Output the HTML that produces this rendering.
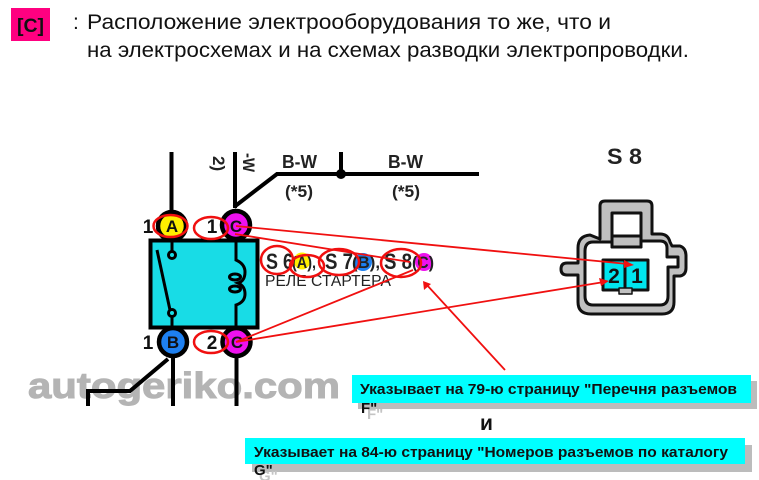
<!DOCTYPE html>
<html><head><meta charset="utf-8"><style>
html,body{margin:0;padding:0;background:#fff;width:759px;height:480px;overflow:hidden}
svg{display:block}
text{font-family:"Liberation Sans",sans-serif}
</style></head><body>
<svg width="759" height="480" viewBox="0 0 759 480" xmlns="http://www.w3.org/2000/svg">
<rect x="11" y="8" width="39" height="33" fill="#ff0080"/>
<text x="17" y="32" font-size="19" font-weight="bold" fill="#111" textLength="27" lengthAdjust="spacingAndGlyphs">[C]</text>
<text x="73" y="29" font-size="21" fill="#111">:</text>
<text x="87" y="29" font-size="21" fill="#111" textLength="524" lengthAdjust="spacingAndGlyphs">Расположение электрооборудования то же, что и</text>
<text x="87" y="57" font-size="21" fill="#111" textLength="602" lengthAdjust="spacingAndGlyphs">на электросхемах и на схемах разводки электропроводки.</text>

<text x="28" y="398" font-size="36" font-weight="bold" fill="#b4b4b4" stroke="#b4b4b4" stroke-width="1" textLength="312" lengthAdjust="spacingAndGlyphs">autogeriko.com</text>

<g stroke="#000" stroke-width="4" fill="none">
<path d="M171.500 152V212M235 152V208M234 207L277 174H479M341 152V174"/>
<path d="M173 355V406M236.500 355V406M168 359L130 391H88V406"/>
</g>
<circle cx="341" cy="174" r="5" fill="#000"/>

<g stroke="#000" stroke-width="4.500">
<circle cx="172" cy="226" r="14" fill="#ffee00"/>
<circle cx="236" cy="225" r="14" fill="#ee11ee"/>
<circle cx="173" cy="342" r="14" fill="#1e80f0"/>
<circle cx="236.500" cy="342" r="14" fill="#ee11ee"/>
</g>
<rect x="150.500" y="240.500" width="107" height="87" fill="#18dce6" stroke="#000" stroke-width="4"/>
<g stroke="#000" stroke-width="3" fill="none">
<path d="M172 241V251M172 317V327M157 250L170 310"/>
<circle cx="172" cy="255" r="3.500" fill="#18dce6"/>
<circle cx="172" cy="313" r="3.500" fill="#18dce6"/>
<path d="M236 241V260Q245 264 245 272Q245 281 238 283Q245 286 245 294Q245 302 236 305V327"/>
<ellipse cx="235" cy="277" rx="5.500" ry="3" fill="#18dce6"/>
<ellipse cx="235" cy="289" rx="5.500" ry="3" fill="#18dce6"/>
</g>

<g font-size="19" font-weight="bold" fill="#111" text-anchor="middle">
<text x="172" y="232" font-size="17">A</text><text x="236" y="232" font-size="17">C</text>
<text x="173" y="348" font-size="17">B</text><text x="237" y="348" font-size="17">C</text>
<text x="148" y="233">1</text><text x="212" y="233">1</text>
<text x="148" y="349">1</text><text x="212" y="349">2</text>
</g>

<circle cx="302" cy="261" r="8.500" fill="#ffee00"/>
<circle cx="363" cy="262" r="9" fill="#1e80f0"/>
<circle cx="424" cy="262" r="9" fill="#ee11ee"/>
<g font-size="22" font-weight="bold" fill="#222">
<text x="266" y="269" textLength="27" lengthAdjust="spacingAndGlyphs">S 6</text>
<text x="292" y="268" font-size="17" textLength="24" lengthAdjust="spacingAndGlyphs">(A),</text>
<text x="325" y="269" textLength="28" lengthAdjust="spacingAndGlyphs">S 7</text>
<text x="352" y="268" font-size="17" textLength="28" lengthAdjust="spacingAndGlyphs">(B),</text>
<text x="384" y="269" textLength="28" lengthAdjust="spacingAndGlyphs">S 8</text>
<text x="412" y="268" font-size="17" textLength="22" lengthAdjust="spacingAndGlyphs">(C)</text>
</g>
<text x="265" y="286" font-size="16" fill="#222" textLength="126" lengthAdjust="spacingAndGlyphs">РЕЛЕ СТАРТЕРА</text>

<g font-weight="bold" font-size="18" fill="#222">
<text x="282" y="168" textLength="35" lengthAdjust="spacingAndGlyphs">B-W</text>
<text x="388" y="168" textLength="35" lengthAdjust="spacingAndGlyphs">B-W</text>
<text x="285" y="197" font-size="17" textLength="28" lengthAdjust="spacingAndGlyphs">(*5)</text>
<text x="392" y="197" font-size="17" textLength="28" lengthAdjust="spacingAndGlyphs">(*5)</text>
<text transform="translate(213 156) rotate(90)" font-size="17">2)</text>
<text transform="translate(243 153) rotate(90)" font-size="17" textLength="19" lengthAdjust="spacingAndGlyphs">-W</text>
<text x="607" y="164" font-size="22" textLength="35" lengthAdjust="spacingAndGlyphs">S 8</text>
</g>

<!-- connector -->
<g stroke="#111" stroke-width="3" stroke-linejoin="round">
<path d="M600 239V206Q600 201 605 201H647Q652 201 652 206V234H660Q668 234 670 242L672 246H680Q686 248 686 256V268Q686 275 680 276H674V302Q674 314 662 314H591Q578 314 578 302V275H567Q561 275 561 269Q561 263 567 263H578V248Q578 236 590 235Z" fill="#c0c0c0"/>
<path d="M612 247H641V241H660Q667 241 667 248V257H678V267H668V296Q668 305 660 305H593Q585 305 585 296V251Q585 242 593 242H612Z" fill="#fff"/>
<rect x="612" y="213" width="29" height="23" fill="#fff"/>
<rect x="612" y="236" width="29" height="11" fill="#c0c0c0"/>
<rect x="603" y="260" width="45" height="30" fill="#00e5ee"/>
<path d="M625 260V291" fill="none"/>
<rect x="619" y="288" width="13" height="6" fill="#c0c0c0" stroke-width="1.500"/>
</g>
<g font-size="21" font-weight="bold" fill="#111" text-anchor="middle">
<text x="614" y="283">2</text><text x="637" y="283">1</text>
</g>

<!-- callouts -->
<rect x="358" y="381" width="399" height="28" fill="#bcbcbc"/>
<rect x="252" y="445" width="500" height="27" fill="#bcbcbc"/>
<rect x="352" y="375" width="399" height="28" fill="#00ffff"/>
<rect x="245" y="438" width="500" height="26" fill="#00ffff"/>
<g font-size="15" font-weight="bold" fill="#c4c4c4">
<text x="367" y="419">F"</text>
<text x="259" y="481">G"</text>
</g>
<g font-size="15" font-weight="bold" fill="#111">
<text x="360" y="394" textLength="377" lengthAdjust="spacingAndGlyphs">Указывает на 79-ю страницу "Перечня разъемов</text>
<text x="361" y="413">F"</text>
<text x="254" y="457" textLength="474" lengthAdjust="spacingAndGlyphs">Указывает на 84-ю страницу "Номеров разъемов по каталогу</text>
<text x="254" y="475">G"</text>
<text x="480" y="430" font-size="21">и</text>
</g>

<!-- red -->
<g stroke="#f01010" stroke-width="2.500" fill="none">
<ellipse cx="170.500" cy="226" rx="17" ry="11"/>
<ellipse cx="211" cy="228" rx="17" ry="11"/>
<ellipse cx="211" cy="342" rx="17" ry="11"/>
<ellipse cx="277" cy="260" rx="16" ry="14"/>
<ellipse cx="307" cy="266" rx="17" ry="11"/>
<ellipse cx="339" cy="262" rx="20" ry="13"/>
<ellipse cx="401" cy="263" rx="20" ry="14"/>
</g>
<g stroke="#f01010" stroke-width="1.800" fill="none">
<path d="M236 226L628 264M235 234L410 262M236 342L413 270M236 342L604 282M505 370L426 284"/>
</g>
<g fill="#f01010">
<path d="M634 265L624 260V268Z"/>
<path d="M609 281L599 278L601 286Z"/>
<path d="M423 281L424 290L431 284Z"/>
</g>
</svg>
</body></html>
